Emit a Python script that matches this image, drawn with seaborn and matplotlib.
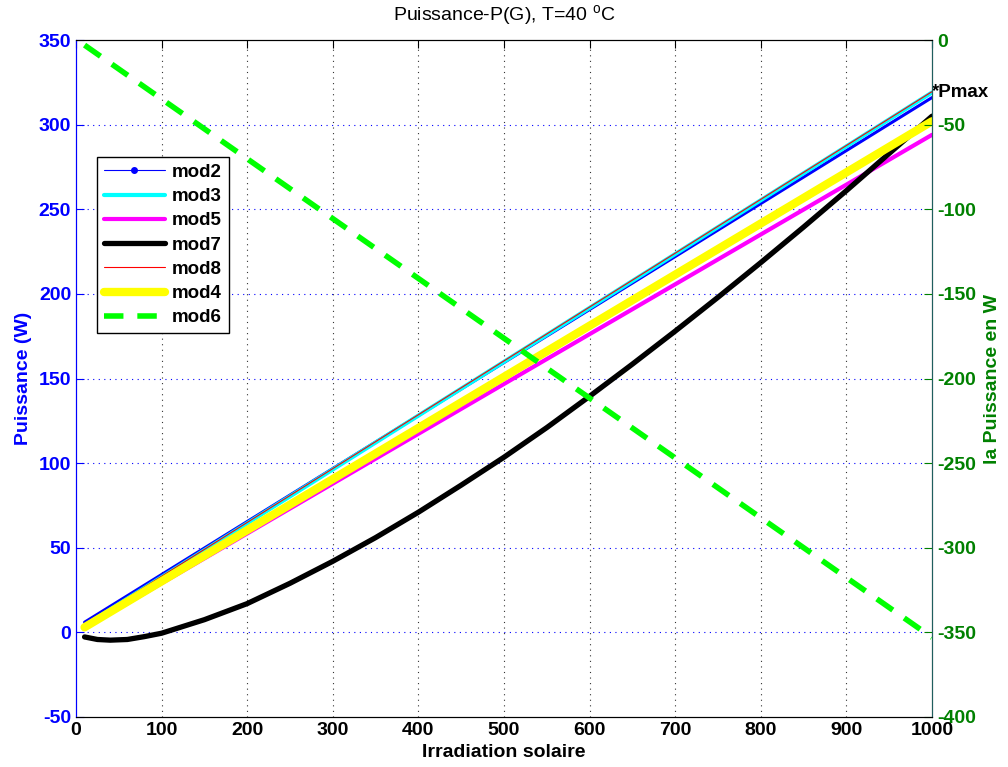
import numpy as np
import pandas as pd
import matplotlib
matplotlib.use('Agg')
from matplotlib import pyplot as plt
from matplotlib.lines import Line2D
import seaborn as sns

sns.set_style('white')
plt.rcParams['font.family'] = ['Liberation Sans', 'DejaVu Sans']
plt.rcParams['mathtext.fontset'] = 'custom'
plt.rcParams['mathtext.rm'] = 'Liberation Sans'
plt.rcParams['axes.unicode_minus'] = False
plt.rcParams['text.color'] = 'black'

# irradiation (x) for the straight lines: two end points
g_lin = [10, 1000]
mod2 = [6.0, 316.0]
mod3 = [4.0, 319.0]
mod5 = [2.5, 294.0]
mod8 = [4.5, 319.5]
mod4 = [3.0, 302.0]
mod6 = [-3.0, -353.0]   # right axis

# mod7 is curved, read at more points
g_mod7 = [10, 25, 40, 60, 80, 100, 150, 200, 250, 300, 350, 400, 450, 500,
          550, 600, 650, 700, 750, 800, 850, 900, 950, 1000]
mod7 = [-2.7, -4.2, -4.6, -4.2, -2.5, -0.5, 7.5, 17, 29, 42, 56, 71, 87, 103.5,
        121, 139.5, 158.5, 178, 198, 218.5, 239.5, 261, 283, 305]

left_ticks = [-50, 0, 50, 100, 150, 200, 250, 300, 350]
right_ticks = [-400, -350, -300, -250, -200, -150, -100, -50, 0]
x_ticks = [0, 100, 200, 300, 400, 500, 600, 700, 800, 900, 1000]

green = '#008000'

fig = plt.figure(figsize=(10.08, 7.67), dpi=100)
ax = fig.add_axes([0.0754, 0.0652, 0.8492, 0.8826])
ax2 = ax.twinx()

sns.lineplot(x=g_lin, y=mod2, ax=ax, color='blue', linewidth=2.2)
sns.lineplot(x=g_lin, y=mod3, ax=ax, color='cyan', linewidth=3)
sns.lineplot(x=g_lin, y=mod5, ax=ax, color='magenta', linewidth=3)
sns.lineplot(x=g_mod7, y=mod7, ax=ax, color='black', linewidth=3.8)
sns.lineplot(x=g_lin, y=mod8, ax=ax, color='red', linewidth=0.8)
sns.lineplot(x=g_lin, y=mod4, ax=ax, color='yellow', linewidth=6)
sns.lineplot(x=g_lin, y=mod6, ax=ax2, color='#00ff00', linewidth=4,
             linestyle=(0, (3.5, 2.5)))

ax.set_xlim(0, 1000)
ax.set_ylim(-50, 350)
ax2.set_ylim(-400, 0)
ax.set_xticks(x_ticks)
ax.set_yticks(left_ticks)
ax2.set_yticks(right_ticks)

# grids: blue dotted horizontal, dark dotted vertical
for yv in left_ticks[1:-1]:
    ax.axhline(yv, color='blue', linestyle=(0, (1, 4)), linewidth=0.8, zorder=0)
for xv in x_ticks[1:-1]:
    ax.axvline(xv, color='#333333', linestyle=(0, (1, 4)), linewidth=0.8, zorder=0)

ax.tick_params(axis='y', colors='blue', direction='in', length=6, labelsize=14)
ax.tick_params(axis='x', colors='black', direction='in', length=6, labelsize=14,
               top=True)
ax2.tick_params(axis='y', colors=green, direction='in', length=6, labelsize=14)
for lab in ax.get_xticklabels() + ax.get_yticklabels() + ax2.get_yticklabels():
    lab.set_fontweight('bold')
for lab in ax.get_yticklabels():
    lab.set_color('blue')

ax.spines['left'].set_color('blue')
ax2.spines['left'].set_color('blue')
ax2.spines['right'].set_color('#1f5f5f')
for a in (ax, ax2):
    a.spines['bottom'].set_color('black')
    a.spines['top'].set_color('black')

ax.set_xlabel('Irradiation solaire', fontsize=14, fontweight='bold', labelpad=4,
              color='black')
ax.set_ylabel('Puissance (W)', fontsize=14, fontweight='bold', color='blue',
              labelpad=5)
ax2.set_ylabel('la Puissance en W', fontsize=14, fontweight='bold', color=green,
               labelpad=6)
ax.set_title(r'Puissance-P(G), T=40 $^{\mathregular{o}}$C', fontsize=14, pad=14,
             color='black')

ax.text(1000, 319, '*Pmax', fontsize=13.5, fontweight='bold', ha='left',
        va='center', clip_on=False, color='black')

handles = [
    Line2D([], [], color='blue', linewidth=0.8, marker='.', markersize=8),
    Line2D([], [], color='cyan', linewidth=3),
    Line2D([], [], color='magenta', linewidth=3),
    Line2D([], [], color='black', linewidth=3.8),
    Line2D([], [], color='red', linewidth=0.8),
    Line2D([], [], color='yellow', linewidth=6),
    Line2D([], [], color='#00ff00', linewidth=4, linestyle=(0, (3.5, 2.5))),
]
labels = ['mod2', 'mod3', 'mod5', 'mod7', 'mod8', 'mod4', 'mod6']
leg = ax2.legend(handles, labels, loc='upper left', bbox_to_anchor=(0.0245, 0.827),
                 borderaxespad=0, fancybox=False, framealpha=1, edgecolor='black',
                 prop={'weight': 'bold', 'size': 13.5}, handlelength=3.3,
                 handletextpad=0.35, labelspacing=0.38, borderpad=0.35,
                 labelcolor='black')
leg.get_frame().set_linewidth(1.0)

fig.savefig('out.png', dpi=100)
